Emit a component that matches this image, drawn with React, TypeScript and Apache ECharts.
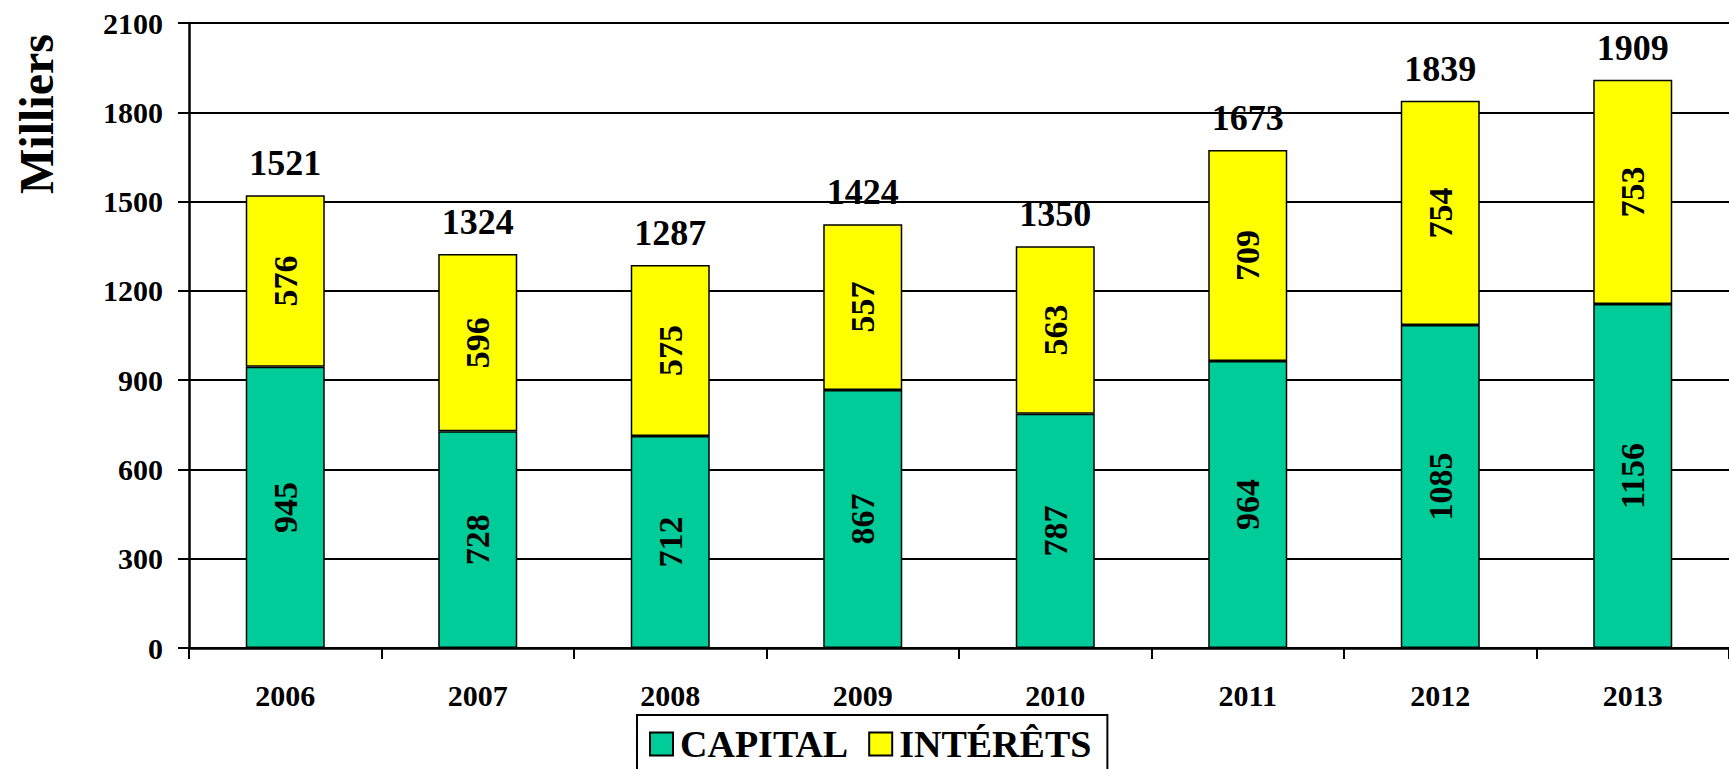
import React, { useEffect, useRef } from "react";
import * as echarts from "echarts";

const years = ["2006", "2007", "2008", "2009", "2010", "2011", "2012", "2013"];
const capital = [945, 728, 712, 867, 787, 964, 1085, 1156];
const interets = [576, 596, 575, 557, 563, 709, 754, 753];
const totals = [1521, 1324, 1287, 1424, 1350, 1673, 1839, 1909];

const FONT = "'Liberation Serif', 'Times New Roman', serif";

export default function App() {
  const ref = useRef<HTMLDivElement>(null);
  useEffect(() => {
    if (!ref.current) return;
    const chart = echarts.init(ref.current, null, { renderer: "svg" });
    const barLabel = {
      show: true,
      position: "inside",
      rotate: 90,
      color: "#000",
      fontFamily: FONT,
      fontWeight: "bold",
      fontSize: 34,
    };
    chart.setOption({
      animation: false,
      backgroundColor: "#fff",
      textStyle: { fontFamily: FONT },
      grid: { left: 189, top: 23, bottom: 121, right: -12, containLabel: false },
      legend: {
        data: ["CAPITAL", "INTÉRÊTS"],
        left: 637,
        top: 715,
        orient: "horizontal",
        padding: [10, 16, 10, 12],
        itemGap: 20,
        itemWidth: 23,
        itemHeight: 23,
        borderColor: "#000",
        borderWidth: 2,
        borderRadius: 0,
        icon: "rect",
        textStyle: {
          fontFamily: FONT,
          fontWeight: "bold",
          fontSize: 38,
          color: "#000",
          padding: [0, 0, 0, 2],
        },
      },
      graphic: [
        {
          type: "text",
          x: 36,
          y: 114,
          rotation: Math.PI / 2,
          style: {
            text: "Milliers",
            fontFamily: FONT,
            fontWeight: "bold",
            fontSize: 48,
            fill: "#000",
            textAlign: "center",
            textVerticalAlign: "middle",
          },
        },
      ],
      xAxis: {
        type: "category",
        data: years,
        boundaryGap: true,
        axisLine: { show: true, lineStyle: { color: "#000", width: 2.5 } },
        axisTick: { show: true, length: 11, lineStyle: { color: "#000", width: 2 } },
        axisLabel: {
          margin: 32,
          color: "#000",
          fontFamily: FONT,
          fontWeight: "bold",
          fontSize: 30,
        },
        splitLine: { show: false },
      },
      yAxis: {
        type: "value",
        min: 0,
        max: 2100,
        interval: 300,
        axisLine: { show: true, lineStyle: { color: "#000", width: 2.5 } },
        axisTick: { show: true, length: 11, lineStyle: { color: "#000", width: 2 } },
        axisLabel: {
          margin: 26,
          color: "#000",
          fontFamily: FONT,
          fontWeight: "bold",
          fontSize: 30,
          formatter: (v: number) => String(v),
        },
        splitLine: { show: true, lineStyle: { color: "#000", width: 1.8 } },
      },
      series: [
        {
          name: "CAPITAL",
          type: "bar",
          stack: "total",
          data: capital,
          barWidth: 79,
          itemStyle: { color: "#00CC99", borderColor: "#000", borderWidth: 1.5 },
          label: barLabel,
        },
        {
          name: "INTÉRÊTS",
          type: "bar",
          stack: "total",
          data: interets,
          barWidth: 79,
          itemStyle: { color: "#FFFF00", borderColor: "#000", borderWidth: 1.5 },
          label: barLabel,
        },
        {
          name: "TOTAL",
          type: "bar",
          stack: "total",
          data: totals.map(() => 0),
          barWidth: 79,
          silent: true,
          itemStyle: { color: "transparent", borderWidth: 0 },
          label: {
            show: true,
            position: "top",
            distance: 14,
            color: "#000",
            fontFamily: FONT,
            fontWeight: "bold",
            fontSize: 36,
            formatter: (p: any) => String(totals[p.dataIndex]),
          },
        },
      ],
    });
    return () => chart.dispose();
  }, []);
  return (
    <div
      ref={ref}
      style={{ position: "fixed", left: 0, top: 0, width: 1729, height: 769, background: "#fff" }}
    />
  );
}
